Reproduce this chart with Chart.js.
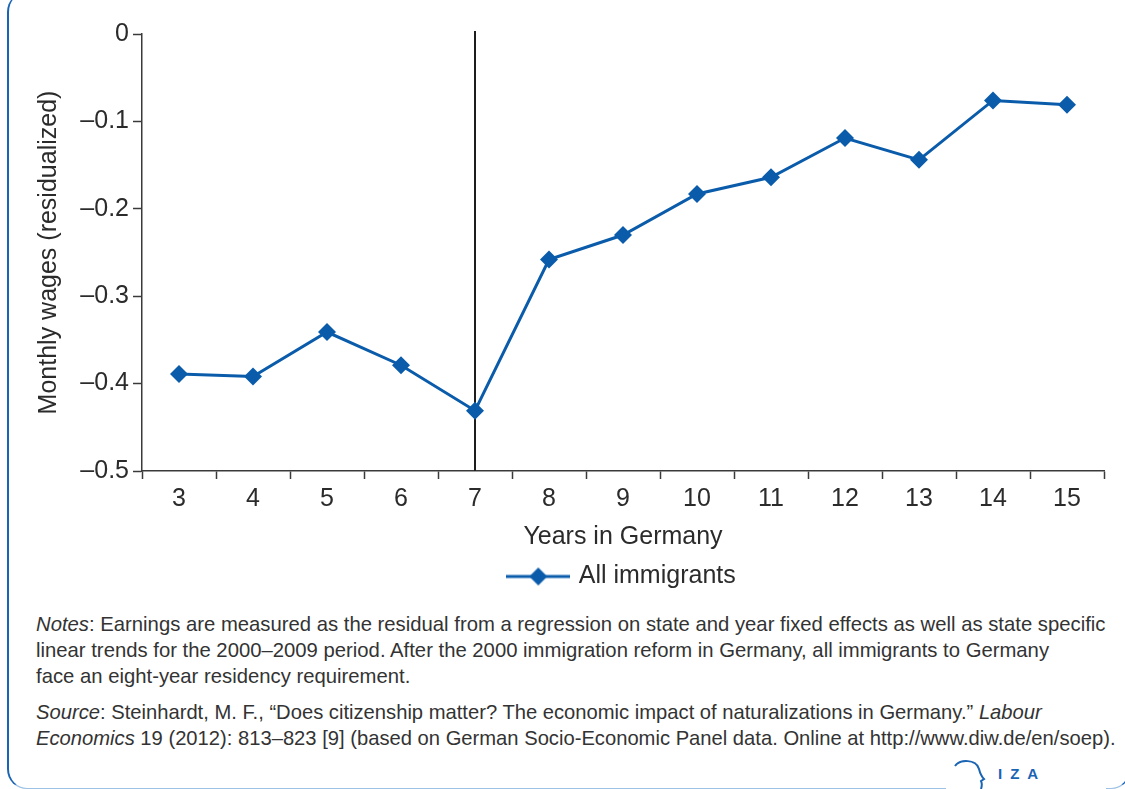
<!DOCTYPE html>
<html lang="en">
<head>
    <meta charset="UTF-8">
    <title>Monthly wages by years in Germany</title>
    <script src="https://cdn.jsdelivr.net/npm/chart.js"></script>
    <style>
        body {
            margin: 0;
            width: 1125px;
            height: 789px;
            overflow: hidden;
            background: #fff;
            font-family: 'Liberation Sans', Arial, sans-serif;
            position: relative;
        }

        .frame {
            position: absolute;
            left: 7px;
            top: -8px;
            width: 1124px;
            height: 797px;
            border-left: 2.5px solid #1a64b4;
            border-right: 2.5px solid #1a64b4;
            border-bottom: 1.5px solid #9cc2e6;
            border-top: 0;
            border-radius: 20px;
            box-sizing: border-box;
        }

        .chart-box {
            position: absolute;
            left: 0;
            top: 0;
            width: 1125px;
            height: 610px;
        }

        .notes {
            position: absolute;
            left: 36px;
            top: 611px;
            font-size: 20.3px;
            line-height: 26px;
            color: #333;
            white-space: nowrap;
        }

        .notes p {
            margin: 0 0 10px 0;
        }

        .notes p.src {
            font-size: 20.2px;
        }

        .logo {
            position: absolute;
            left: 946px;
            top: 755px;
            width: 160px;
            height: 34px;
            background: #fff;
        }

        .logo span {
            position: absolute;
            left: 52px;
            top: 10px;
            font-size: 15px;
            font-weight: bold;
            letter-spacing: 8px;
            color: #1a64b4;
        }
    </style>
</head>
<body>
    <div class="frame"></div>
    <div class="chart-box"><canvas id="wageChart"></canvas></div>

    <div class="notes">
        <p><i>Notes</i>: Earnings are measured as the residual from a regression on state and year fixed effects as well as state specific<br>
        linear trends for the 2000–2009 period. After the 2000 immigration reform in Germany, all immigrants to Germany<br>
        face an eight-year residency requirement.</p>
        <p class="src"><i>Source</i>: Steinhardt, M. F., “Does citizenship matter? The economic impact of naturalizations in Germany.” <i>Labour</i><br>
        <i>Economics</i> 19 (2012): 813–823 [9] (based on German Socio-Economic Panel data. Online at http://www.diw.de/en/soep).</p>
    </div>

    <div class="logo">
        <svg width="50" height="34" style="position:absolute;left:0;top:0">
            <path d="M 9 11 C 14 4, 30 4, 33 14 C 34 18, 35 21, 38 24 L 35 26 C 36 28, 36 31, 35 34"
                  fill="none" stroke="#1a64b4" stroke-width="2"/>
        </svg>
        <span>IZA</span>
    </div>

    <script>
        const years = ['3', '4', '5', '6', '7', '8', '9', '10', '11', '12', '13', '14', '15'];
        const wages = [-0.389, -0.392, -0.341, -0.379, -0.431, -0.258, -0.230, -0.183, -0.164, -0.119, -0.144, -0.076, -0.081];
        const yTicks = [0, -0.1, -0.2, -0.3, -0.4, -0.5];
        const reformYear = '7';

        const blue = '#0a5cab';
        const axisColor = '#3a3a3a';
        const textColor = '#2b2b2b';
        const font = { family: "'Liberation Sans', Arial, sans-serif", size: 25 };

        // legend symbol: short line with a diamond on it
        const legendIcon = document.createElement('canvas');
        legendIcon.width = 64;
        legendIcon.height = 22;
        const ic = legendIcon.getContext('2d');
        ic.strokeStyle = blue;
        ic.lineWidth = 3;
        ic.beginPath();
        ic.moveTo(0, 11);
        ic.lineTo(64, 11);
        ic.stroke();
        ic.fillStyle = blue;
        ic.beginPath();
        ic.moveTo(23, 11);
        ic.lineTo(32, 2);
        ic.lineTo(41, 11);
        ic.lineTo(32, 20);
        ic.closePath();
        ic.fill();

        const reformLine = {
            id: 'reformLine',
            beforeDatasetsDraw(chart) {
                const x = chart.scales.x.getPixelForValue(years.indexOf(reformYear));
                const area = chart.chartArea;
                const ctx = chart.ctx;
                ctx.save();
                ctx.strokeStyle = '#1e1e1e';
                ctx.lineWidth = 2;
                ctx.beginPath();
                ctx.moveTo(x, area.top - 3);
                ctx.lineTo(x, area.bottom);
                ctx.stroke();
                ctx.restore();
            }
        };

        Chart.defaults.color = textColor;

        new Chart(document.getElementById('wageChart'), {
            type: 'line',
            data: {
                labels: years,
                datasets: [{
                    label: 'All immigrants',
                    data: wages,
                    borderColor: blue,
                    backgroundColor: blue,
                    borderWidth: 3,
                    pointStyle: 'rectRot',
                    pointRadius: 9,
                    pointBorderWidth: 0,
                    tension: 0
                }]
            },
            options: {
                responsive: true,
                maintainAspectRatio: false,
                animation: false,
                layout: { padding: { top: 34, left: 30, right: 21, bottom: 11 } },
                scales: {
                    x: {
                        offset: true,
                        grid: {
                            offset: true,
                            drawOnChartArea: false,
                            tickLength: 8,
                            tickColor: axisColor,
                            tickWidth: 1.5
                        },
                        border: { color: axisColor, width: 1.5 },
                        ticks: { font: font, padding: 5, color: textColor },
                        title: {
                            display: true,
                            text: 'Years in Germany',
                            font: font,
                            color: textColor,
                            padding: { top: 3, bottom: 2 }
                        }
                    },
                    y: {
                        min: -0.5,
                        max: 0,
                        afterBuildTicks(scale) {
                            scale.ticks = yTicks.map(v => ({ value: v }));
                        },
                        afterFit(scale) {
                            scale.width = 112;
                        },
                        grid: {
                            drawOnChartArea: false,
                            tickLength: 9,
                            tickColor: axisColor,
                            tickWidth: 1.5
                        },
                        border: { color: axisColor, width: 1.5 },
                        ticks: {
                            font: font,
                            padding: 4,
                            color: textColor,
                            callback: v => v === 0 ? '0' : '–' + Math.abs(v).toFixed(1)
                        },
                        title: {
                            display: true,
                            text: 'Monthly wages (residualized)',
                            font: font,
                            color: textColor,
                            padding: { top: 4, bottom: 0 }
                        }
                    }
                },
                plugins: {
                    legend: {
                        position: 'bottom',
                        fullSize: false,
                        labels: {
                            usePointStyle: true,
                            pointStyle: legendIcon,
                            pointStyleWidth: 56,
                            font: font,
                            color: textColor,
                            padding: 10
                        }
                    },
                    tooltip: { enabled: false }
                }
            },
            plugins: [reformLine]
        });
    </script>
</body>
</html>
